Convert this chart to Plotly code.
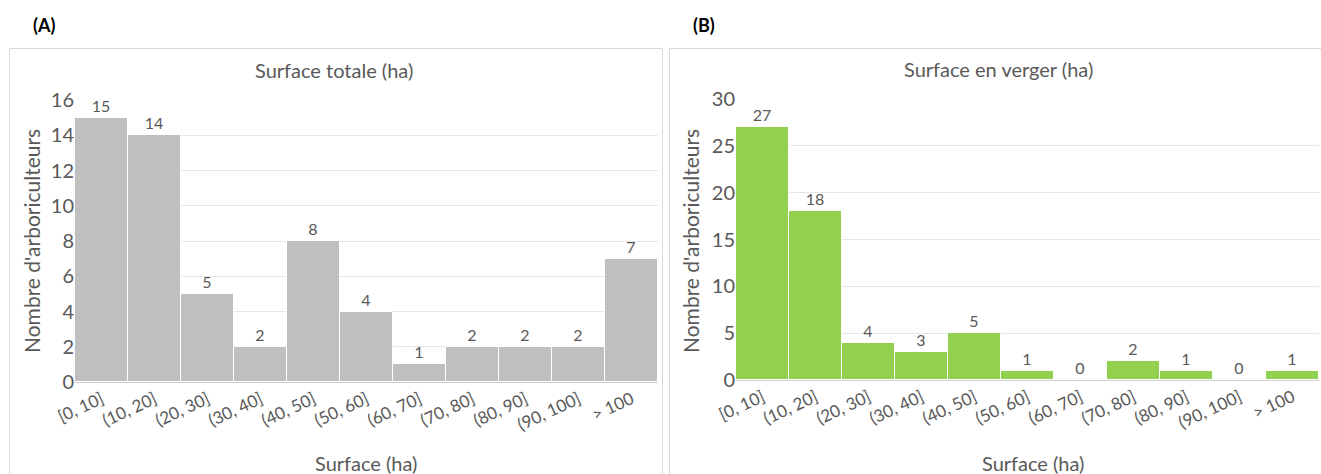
import plotly.graph_objects as go

categories = ["[0, 10]", "(10, 20]", "(20, 30]", "(30, 40]", "(40, 50]", "(50, 60]",
              "(60, 70]", "(70, 80]", "(80, 90]", "(90, 100]", "> 100"]
surface_totale = [15, 14, 5, 2, 8, 4, 1, 2, 2, 2, 7]
surface_verger = [27, 18, 4, 3, 5, 1, 0, 2, 1, 0, 1]

W, H = 1321, 474
FONT = "Lato"
GREY_TXT = "#595959"

def px(x):
    return x / W

def py(y):
    return 1 - y / H

fig = go.Figure()

fig.add_trace(go.Bar(x=categories, y=surface_totale, xaxis="x", yaxis="y",
                     marker=dict(color="#BFBFBF", line=dict(color="white", width=1)),
                     text=[str(v) for v in surface_totale], textposition="outside",
                     textfont=dict(family=FONT, size=16, color=GREY_TXT),
                     cliponaxis=False, showlegend=False))
fig.add_trace(go.Bar(x=categories, y=surface_verger, xaxis="x2", yaxis="y2",
                     marker=dict(color="#92D050", line=dict(color="white", width=1)),
                     text=[str(v) for v in surface_verger], textposition="outside",
                     textfont=dict(family=FONT, size=16, color=GREY_TXT),
                     cliponaxis=False, showlegend=False))

common_x = dict(tickangle=-25, tickfont=dict(family=FONT, size=17, color=GREY_TXT),
                showgrid=False, showline=True, linecolor="#D0D0D0", linewidth=1,
                ticks="", fixedrange=True, automargin=False)
common_y = dict(tickfont=dict(family=FONT, size=20, color=GREY_TXT),
                showgrid=True, gridcolor="#E6E6E6", gridwidth=1,
                zeroline=False, showline=False, ticks="", ticklen=0, automargin=False)

fig.update_layout(
    width=W, height=H,
    margin=dict(l=0, r=0, t=0, b=0),
    paper_bgcolor="white", plot_bgcolor="white",
    bargap=0,
    font=dict(family=FONT, color=GREY_TXT),
    xaxis=dict(domain=[px(75), px(658)], anchor="y", **common_x),
    yaxis=dict(domain=[py(382), py(100)], anchor="x", range=[0, 16], dtick=2, **common_y),
    xaxis2=dict(domain=[px(736), px(1319)], anchor="y2", **common_x),
    yaxis2=dict(domain=[py(380), py(99)], anchor="x2", range=[0, 30], dtick=5, **common_y),
)

# panel borders
fig.add_shape(type="rect", xref="paper", yref="paper",
              x0=px(9.5), x1=px(662.5), y0=py(480), y1=py(48.5),
              line=dict(color="#D9D9D9", width=1), fillcolor="rgba(0,0,0,0)", layer="below")
fig.add_shape(type="rect", xref="paper", yref="paper",
              x0=px(669.5), x1=px(1330), y0=py(480), y1=py(48.5),
              line=dict(color="#D9D9D9", width=1), fillcolor="rgba(0,0,0,0)", layer="below")

def ann(text, x, y, size, color=GREY_TXT, angle=0, bold=False):
    fig.add_annotation(text=f"<b>{text}</b>" if bold else text,
                       xref="paper", yref="paper", x=px(x), y=py(y),
                       xanchor="center", yanchor="middle", showarrow=False,
                       textangle=angle,
                       font=dict(family=FONT, size=size, color=color))

ann("(A)", 44, 25, 18, color="black", bold=True)
ann("(B)", 704, 25, 18, color="black", bold=True)
ann("Surface totale (ha)", 334, 70, 20)
ann("Surface en verger (ha)", 998, 69, 20)
ann("Nombre d'arboriculteurs", 31, 241, 21, angle=-90)
ann("Nombre d'arboriculteurs", 690, 241, 21, angle=-90)
ann("Surface (ha)", 366, 463, 20)
ann("Surface (ha)", 1033, 463, 20)

fig.write_html("out.html", config={"displayModeBar": False},
               post_script="document.body.style.margin='0';document.body.style.overflow='hidden';")
